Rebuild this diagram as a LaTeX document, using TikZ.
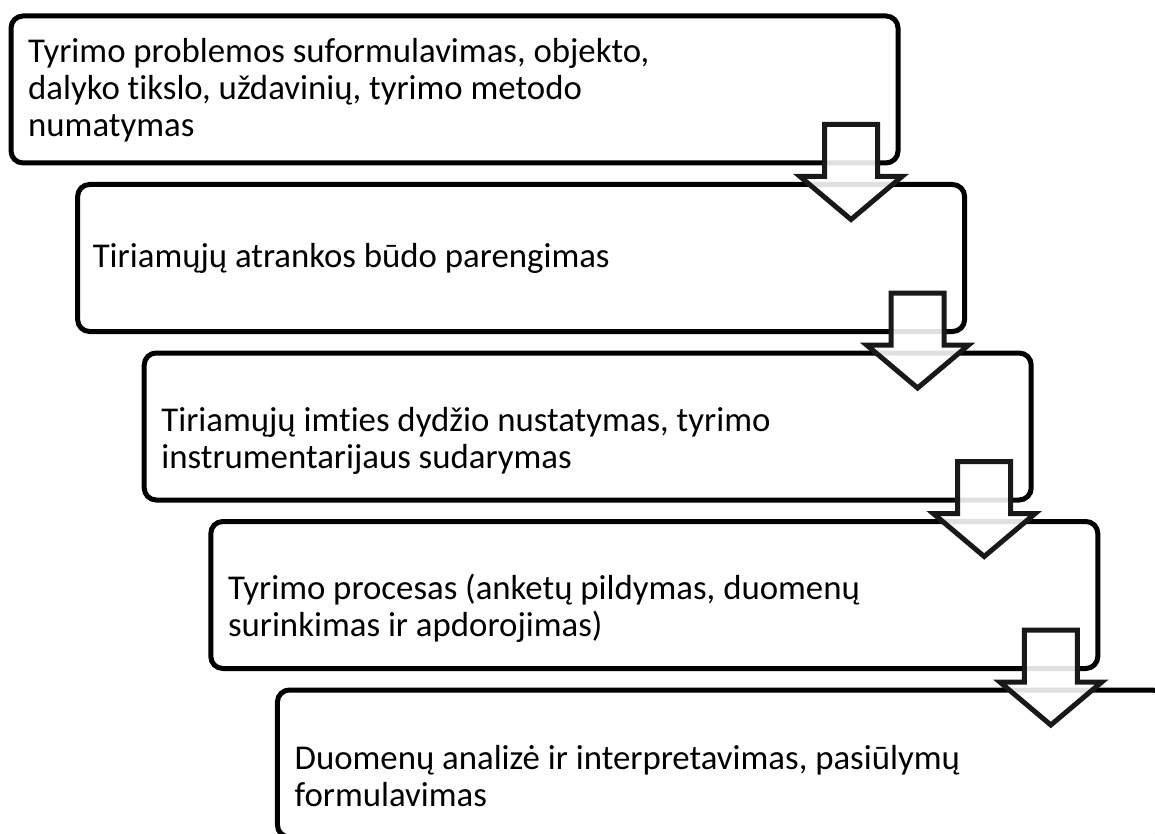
\documentclass[tikz,border=0pt]{standalone}
\usepackage{fontspec}
\setmainfont{Carlito}[Ligatures={NoCommon}]
\usetikzlibrary{calc}
\begin{document}
\begin{tikzpicture}[x=1pt,y=-1pt,
  stepbox/.style={draw=black, line width=5pt, rounded corners=12pt,
    minimum width=887pt, minimum height=147pt, inner sep=0pt, outer sep=0pt,
    anchor=north west},
  steptext/.style={font=\fontsize{34.8}{37}\selectfont, inner sep=0pt,
    anchor=base west, text=black},
  downarrow/.style={draw=black!90, line width=5pt, fill=white,
    fill opacity=0.88, miter limit=10},
]
\useasboundingbox (0,0) rectangle (1155,834);

% the five stair-stepped boxes
\node[stepbox] (b1) at (11,16) {};
\node[stepbox] (b2) at (77.6,184.5) {};
\node[stepbox] (b3) at (144.2,353) {};
\node[stepbox] (b4) at (210.8,521.5) {};
\node[stepbox] (b5) at (277.4,690) {};

% axes of the block arrows
\foreach \i in {1,2,3,4} {
  \coordinate (a\i) at ($(b\i.south east)+(-47,0)$);
}

% block arrows from each box down into the next
\foreach \i/\j in {1/2,2/3,3/4,4/5} {
  \draw[downarrow]
    ($(a\i)+(-26.5,-38.5)$) -- ($(a\i)+(26.5,-38.5)$)
    -- ($(a\i |- b\j.north)+(26.5,-8)$) -- ($(a\i |- b\j.north)+(51,-8)$)
    -- ($(a\i |- b\j.north)+(0,35)$)
    -- ($(a\i |- b\j.north)+(-51,-8)$) -- ($(a\i |- b\j.north)+(-26.5,-8)$)
    -- cycle;
}

% texts
\node[steptext] (t1) at ($(b1.north west)+(17,47)$)
  {\vtop{\hbox{Tyrimo problemos suformulavimas, objekto,}
         \hbox{dalyko tikslo, uždavinių, tyrimo metodo}
         \hbox{numatymas}}};
\node[steptext] (t2) at ($(b2.north west)+(15,83)$)
  {Tiriamųjų atrankos būdo parengimas};
\node[steptext] (t3) at ($(b3.north west)+(17,78)$)
  {\vtop{\hbox{Tiriamųjų imties dydžio nustatymas, tyrimo}
         \hbox{instrumentarijaus sudarymas}}};
\node[steptext] (t4) at ($(b4.north west)+(17,78)$)
  {\vtop{\hbox{Tyrimo procesas (anketų pildymas, duomenų}
         \hbox{surinkimas ir apdorojimas)}}};
\node[steptext] (t5) at ($(b5.north west)+(17,79)$)
  {\vtop{\hbox{Duomenų analizė ir interpretavimas, pasiūlymų}
         \hbox{formulavimas}}};
\end{tikzpicture}
\end{document}
